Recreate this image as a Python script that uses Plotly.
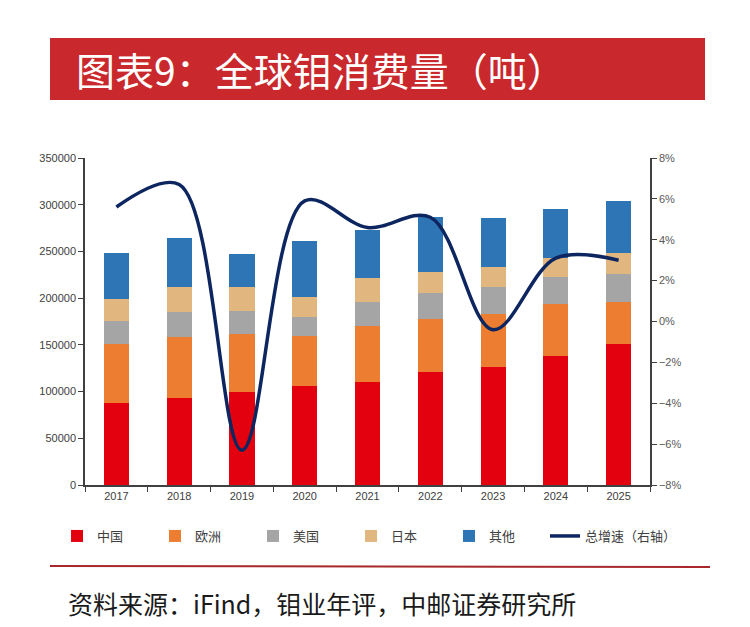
import plotly.graph_objects as go

# 全球钼消费量（吨）
years = ["2017", "2018", "2019", "2020", "2021", "2022", "2023", "2024", "2025"]
china = [87500, 93200, 99600, 105700, 110700, 121400, 126100, 138200, 151100]
europe = [63200, 65000, 61800, 53600, 59600, 56400, 57100, 55400, 45000]
usa = [24700, 27100, 25000, 20700, 25800, 27500, 28200, 29200, 30000]
japan = [24200, 26100, 25000, 20700, 25300, 23200, 21800, 20400, 22100]
other = [48600, 52900, 36100, 60700, 51800, 58300, 52500, 51800, 55300]
growth = [0.056, 0.067, -0.063, 0.059, 0.046, 0.051, -0.004, 0.031, 0.030]

series = [
    ("中国", china, "#E3000F"),
    ("欧洲", europe, "#ED7D31"),
    ("美国", usa, "#A5A5A5"),
    ("日本", japan, "#E2B67F"),
    ("其他", other, "#2E75B6"),
]

FONT = "Noto Sans CJK SC"

fig = go.Figure()
for name, vals, color in series:
    fig.add_trace(go.Bar(x=years, y=vals, name=name, marker_color=color,
                         marker_line_width=0, legend="legend"))

fig.add_trace(go.Scatter(
    x=years, y=growth, name="总增速（右轴）", yaxis="y2", mode="lines",
    line=dict(color="#0D2660", width=3.5, shape="spline", smoothing=1.0),
    legend="legend2",
))

# page puts the figure 8px in from the corner, so the plot area
# (x 85..650, y 158..485 on screen) sits at 77..642 / 150..477 here
def px_x(v):
    return (v - 85) / 565


def px_y(v):
    return (485 - v) / 327


shapes = [
    dict(type="rect", xref="paper", yref="paper",
         x0=px_x(50), x1=px_x(705), y0=px_y(100), y1=px_y(38),
         fillcolor="#C9292C", line_width=0, layer="below"),
    dict(type="line", xref="paper", yref="paper",
         x0=px_x(50), x1=px_x(710), y0=px_y(566), y1=px_y(567),
         line=dict(color="#A8282B", width=2)),
]

annotations = [
    dict(text="图表9：全球钼消费量（吨）", xref="paper", yref="paper",
         x=px_x(74), y=px_y(69), xanchor="left", yanchor="middle",
         showarrow=False, font=dict(family=FONT, size=39, color="white")),
    dict(text="资料来源：iFind，钼业年评，中邮证券研究所", xref="paper", yref="paper",
         x=px_x(66), y=px_y(603), xanchor="left", yanchor="middle",
         showarrow=False, font=dict(family=FONT, size=25, color="#1a1a1a")),
]

legend_font = dict(family=FONT, size=13, color="#404040")

fig.update_layout(
    width=742, height=619,
    margin=dict(l=77, r=100, t=150, b=142),
    paper_bgcolor="white", plot_bgcolor="white",
    barmode="stack", bargap=0.6,
    font=dict(family=FONT, size=11, color="#595959"),
    showlegend=True,
    legend=dict(orientation="h", x=px_x(57), y=px_y(536),
                xanchor="left", yanchor="middle",
                entrywidth=53, entrywidthmode="pixels",
                font=legend_font, traceorder="normal"),
    legend2=dict(orientation="h", x=px_x(545), y=px_y(536),
                 xanchor="left", yanchor="middle", font=legend_font),
    xaxis=dict(showline=True, linecolor="#404040", linewidth=1.5,
               ticks="outside", ticklen=5, tickcolor="#404040",
               tickson="boundaries", showgrid=False,
               tickfont=dict(family="Liberation Sans", size=11, color="#404040")),
    yaxis=dict(range=[0, 350000], dtick=50000, showline=True,
               linecolor="#404040", linewidth=1.5, ticks="outside", ticklen=5,
               tickcolor="#404040", showgrid=False, zeroline=False,
               tickformat="d",
               tickfont=dict(family="Liberation Sans", size=11, color="#404040")),
    yaxis2=dict(range=[-0.08, 0.08], dtick=0.02, tickformat=".0%",
                overlaying="y", side="right", showline=True,
                linecolor="#404040", linewidth=1.5, ticks="outside", ticklen=5,
                tickcolor="#404040", showgrid=False, zeroline=False,
                tickfont=dict(family="Liberation Sans", size=11, color="#595959")),
    shapes=shapes,
    annotations=annotations,
)

fig.write_html("out.html")
